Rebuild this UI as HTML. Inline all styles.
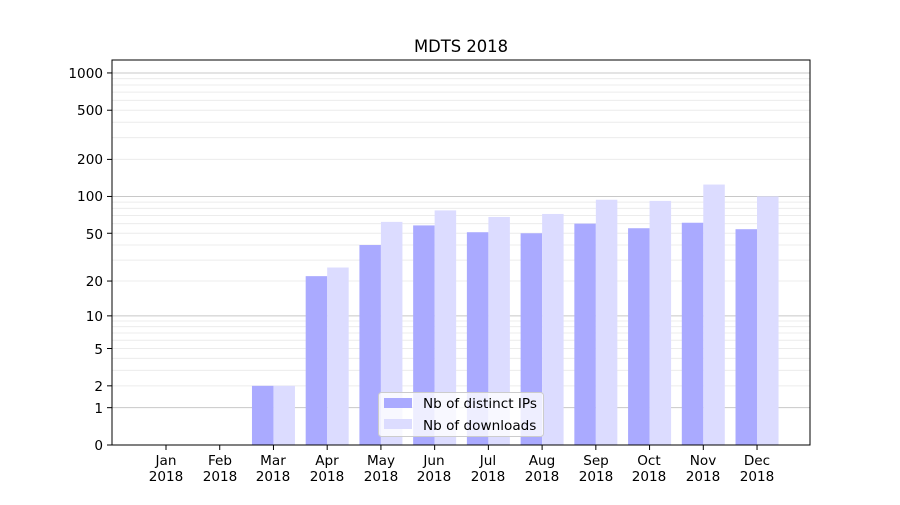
<!DOCTYPE html>
<html><head><meta charset="utf-8"><style>
body{margin:0;background:#fff}
text{font-family:"DejaVu Sans","Liberation Sans",sans-serif;font-size:13.6px;fill:#000}
</style></head><body>
<svg id="s" width="900" height="500" xmlns="http://www.w3.org/2000/svg">
<rect width="900" height="500" fill="#fff"/>
<g id="grid"></g>
<g id="bars"></g>
<rect x="112" y="60" width="698" height="385" fill="none" stroke="#000" stroke-width="1"/>
<g id="ticks" stroke="#000"></g>
<text x="461" y="52" text-anchor="middle" style="font-size:16.4px">MDTS 2018</text>
<g text-anchor="end">
<text x="103" y="450">0</text>
<text x="103" y="413">1</text>
<text x="103" y="391">2</text>
<text x="103" y="354">5</text>
<text x="103" y="321">10</text>
<text x="103" y="286">20</text>
<text x="103" y="239">50</text>
<text x="103" y="201">100</text>
<text x="103" y="164">200</text>
<text x="103" y="115">500</text>
<text x="103" y="78">1000</text>
</g>
<g text-anchor="middle">
<text x="166" y="465">Jan</text><text x="166" y="481">2018</text>
<text x="220" y="465">Feb</text><text x="220" y="481">2018</text>
<text x="273" y="465">Mar</text><text x="273" y="481">2018</text>
<text x="327" y="465">Apr</text><text x="327" y="481">2018</text>
<text x="381" y="465">May</text><text x="381" y="481">2018</text>
<text x="434" y="465">Jun</text><text x="434" y="481">2018</text>
<text x="488" y="465">Jul</text><text x="488" y="481">2018</text>
<text x="542" y="465">Aug</text><text x="542" y="481">2018</text>
<text x="596" y="465">Sep</text><text x="596" y="481">2018</text>
<text x="649" y="465">Oct</text><text x="649" y="481">2018</text>
<text x="703" y="465">Nov</text><text x="703" y="481">2018</text>
<text x="757" y="465">Dec</text><text x="757" y="481">2018</text>
</g>
<rect x="378.5" y="392.5" width="165" height="44" rx="3" fill="#fff" fill-opacity="0.8" stroke="#ccc"/>
<rect x="384" y="398" width="28" height="10" fill="#aaaaff"/>
<rect x="384" y="419" width="28" height="10" fill="#dcdcff"/>
<text x="423" y="408">Nb of distinct IPs</text>
<text x="423" y="430">Nb of downloads</text>
</svg>
<script>
var ns="http://www.w3.org/2000/svg";
function y(v){return 445-124*Math.log10(1+v);}
function el(p,t,a){var e=document.createElementNS(ns,t);for(var k in a)e.setAttribute(k,a[k]);document.getElementById(p).appendChild(e);}
[1,10,100,1000].forEach(function(d){
 el("grid","line",{x1:112,x2:810,y1:y(d),y2:y(d),stroke:"#c8c8c8","stroke-width":1});
 for(var m=2;m<10;m++){var v=m*d;if(v>1100)break;el("grid","line",{x1:112,x2:810,y1:y(v),y2:y(v),stroke:"#ececec","stroke-width":1});}
});
var ip=[0,0,2,22,40,58,51,50,60,55,61,54],dl=[0,0,2,26,62,77,68,72,94,92,125,100];
for(var i=0;i<12;i++){var c=166+i*53.73;
 if(ip[i]>0)el("bars","rect",{x:c-21.5,y:y(ip[i]),width:21.5,height:445-y(ip[i]),fill:"#aaaaff"});
 if(dl[i]>0)el("bars","rect",{x:c,y:y(dl[i]),width:21.5,height:445-y(dl[i]),fill:"#dcdcff"});
 el("ticks","line",{x1:c,x2:c,y1:445,y2:450});
}
[0,1,2,5,10,20,50,100,200,500,1000].forEach(function(v){el("ticks","line",{x1:107,x2:112,y1:y(v),y2:y(v)});});
</script>
</body></html>
